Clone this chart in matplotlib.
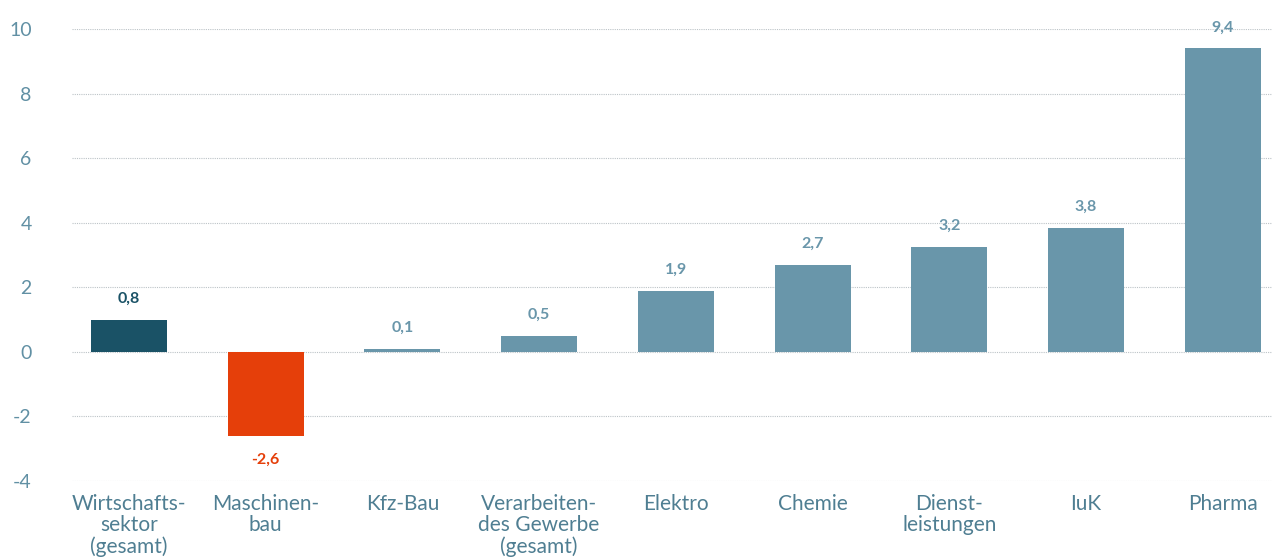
import matplotlib
matplotlib.use("Agg")
import matplotlib.pyplot as plt
import numpy as np

# data
categories = ["Wirtschafts-\nsektor\n(gesamt)", "Maschinen-\nbau", "Kfz-Bau",
              "Verarbeiten-\ndes Gewerbe\n(gesamt)", "Elektro", "Chemie",
              "Dienst-\nleistungen", "IuK", "Pharma"]
bar_values = [1.0, -2.6, 0.1, 0.5, 1.9, 2.7, 3.25, 3.85, 9.4]
value_labels = ["0,8", "-2,6", "0,1", "0,5", "1,9", "2,7", "3,2", "3,8", "9,4"]
yticks = [-4, -2, 0, 2, 4, 6, 8, 10]

DARK = "#1a5266"
RED = "#e53f0a"
TEAL = "#6996aa"
bar_colors = [DARK, RED] + [TEAL] * 7
label_colors = [DARK, RED] + [TEAL] * 7

plt.rcParams['font.family'] = ['Lato', 'DejaVu Sans']

fig = plt.figure(figsize=(12.72, 5.6), dpi=100)
ax = fig.add_axes([72 / 1272, 79 / 560, 1200 / 1272, 452 / 560])

x = np.arange(len(categories))
ax.bar(x, bar_values, width=0.555, color=bar_colors, zorder=2)

for xi, v, lab, c in zip(x, bar_values, value_labels, label_colors):
    if v >= 0:
        ax.annotate(lab, (xi, v), xytext=(0, 10), textcoords="offset points",
                    ha="center", va="bottom", fontsize=11.5, fontweight="bold", color=c)
    else:
        ax.annotate(lab, (xi, v), xytext=(0, -12), textcoords="offset points",
                    ha="center", va="top", fontsize=11.5, fontweight="bold", color=c)

ax.set_xlim(-0.416, 8.36)
ax.set_ylim(-4, 10)
ax.set_yticks(yticks)
ax.set_yticklabels([str(t) for t in yticks], fontsize=14, color="#6190a4")
ax.set_xticks(x)
ax.set_xticklabels(categories, fontsize=15, color="#4f7e92", linespacing=1.08)
ax.tick_params(axis="y", length=0, pad=29)
ax.tick_params(axis="x", length=0, pad=9)

for s in ax.spines.values():
    s.set_visible(False)
ax.yaxis.grid(True, linestyle=(0, (1, 1)), color="#bcc3c7", linewidth=0.8, zorder=0)
ax.set_axisbelow(True)

fig.savefig("out.png", dpi=100)
